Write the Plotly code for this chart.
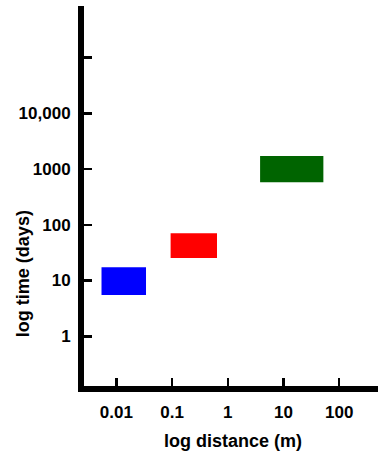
import plotly.graph_objects as go

# Data
regions = ["blue", "red", "green"]
dist_lo = [0.0054, 0.094, 3.8]     # m
dist_hi = [0.034, 0.64, 52.0]      # m
time_lo = [5.5, 25.4, 581.0]       # days
time_hi = [17.3, 70.5, 1720.0]     # days
colors = ["#0000FF", "#FF0000", "#006400"]

x_tickvals = [0.01, 0.1, 1, 10, 100]
x_ticktext = ["0.01", "0.1", "1", "10", "100"]
y_tickvals = [1, 10, 100, 1000, 10000, 100000]
y_ticktext = ["1", "10", "100", "1000", "10,000", ""]

FONT = "Liberation Sans, Arial, Helvetica, sans-serif"

fig = go.Figure()
for name, x0, x1, y0, y1, c in zip(regions, dist_lo, dist_hi, time_lo, time_hi, colors):
    fig.add_trace(go.Scatter(
        x=[x0, x1, x1, x0, x0], y=[y0, y0, y1, y1, y0],
        mode="lines", fill="toself", fillcolor=c,
        line=dict(width=0, color=c), name=name, hoverinfo="skip",
    ))

axis_common = dict(
    showline=True, linecolor="black", linewidth=6,
    ticks="inside", ticklen=8, tickwidth=2.5, tickcolor="black",
    showgrid=False, zeroline=False,
    tickfont=dict(family=FONT, size=17, color="black", weight="bold"),
)

fig.update_xaxes(type="log", range=[-2.582, 2.697], ticklabelstandoff=6,
                 tickvals=x_tickvals, ticktext=x_ticktext, **axis_common)
fig.update_yaxes(type="log", range=[-0.893, 5.928], ticklabelstandoff=4,
                 tickvals=y_tickvals, ticktext=y_ticktext, **axis_common)

fig.add_annotation(text="<b>log distance (m)</b>", xref="paper", yref="paper",
                   x=0.507, y=-0.1447, xanchor="center", yanchor="middle",
                   showarrow=False, font=dict(family=FONT, size=18, color="black"))
fig.add_annotation(text="<b>log time (days)</b>", xref="paper", yref="paper",
                   x=-0.2075, y=0.297, xanchor="center", yanchor="middle",
                   textangle=-90, showarrow=False,
                   font=dict(family=FONT, size=18, color="black"))

fig.update_layout(
    width=382, height=454,
    margin=dict(l=84, r=4, t=6, b=68),
    plot_bgcolor="white", paper_bgcolor="white",
    showlegend=False,
)

fig.write_html("out.html",
               config={"displayModeBar": False, "staticPlot": True},
               post_script="document.body.style.margin='0px';document.body.style.overflow='hidden';")
